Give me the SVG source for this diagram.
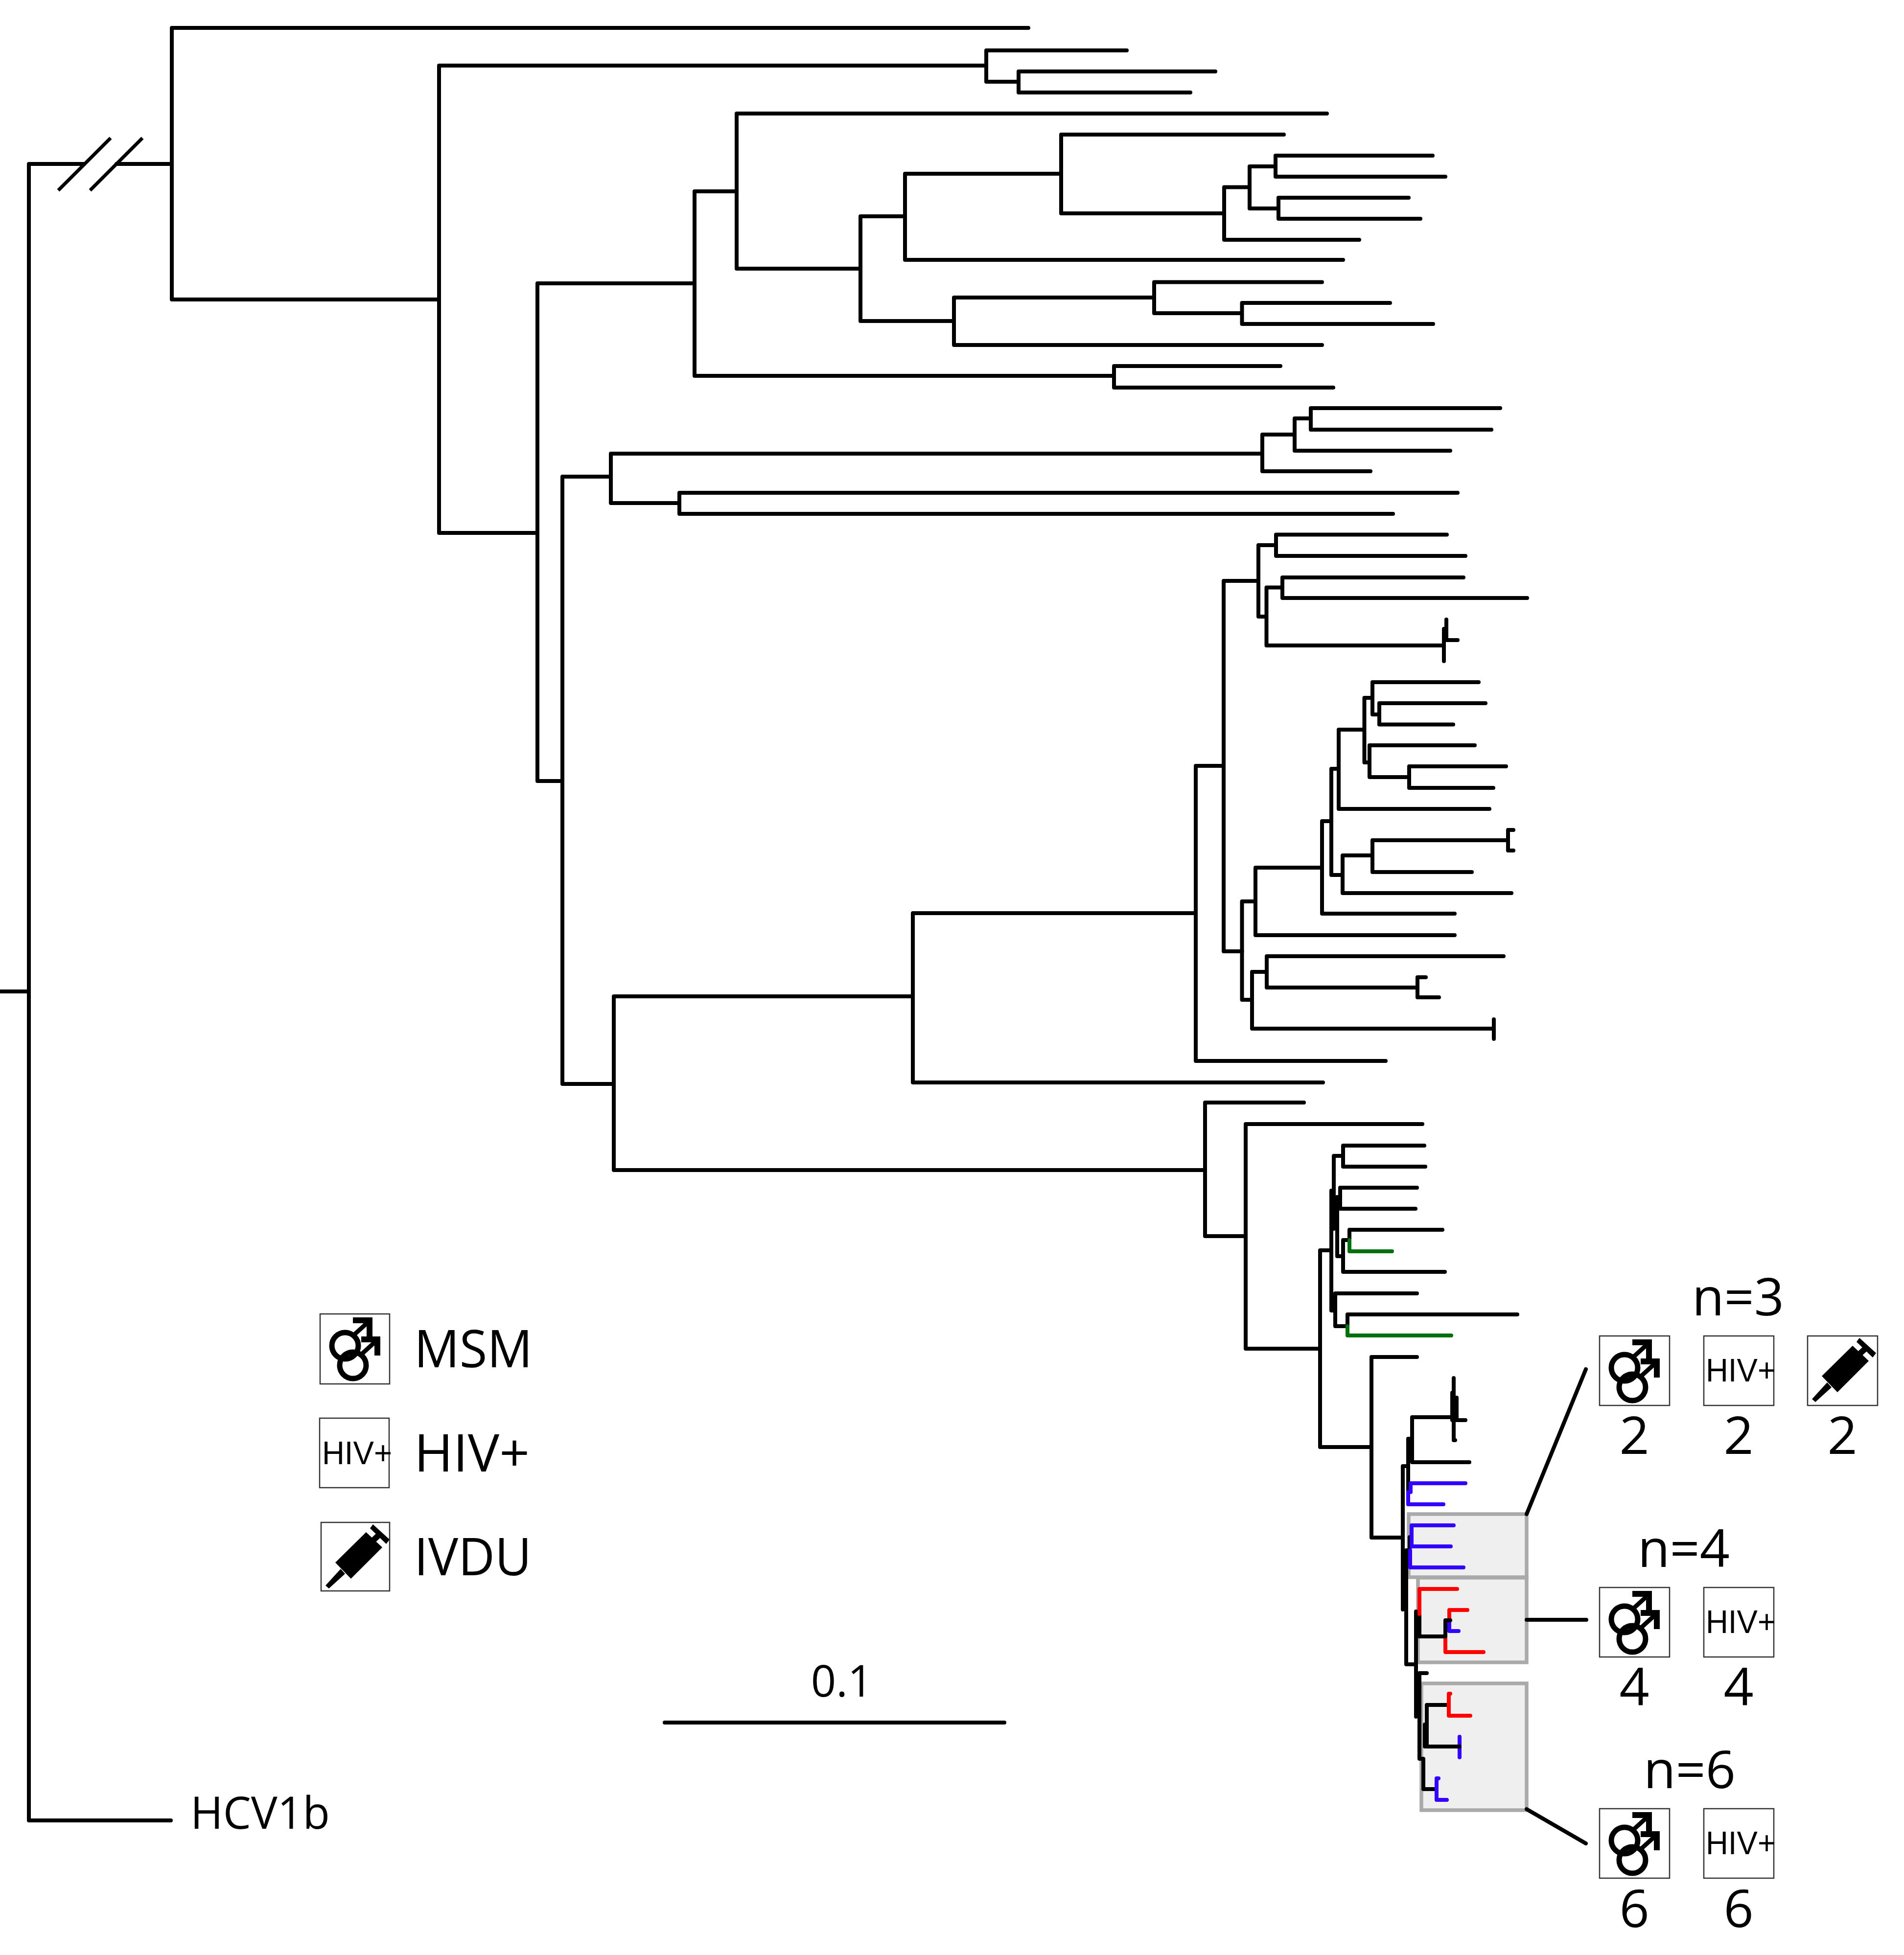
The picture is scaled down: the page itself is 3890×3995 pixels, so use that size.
<svg xmlns="http://www.w3.org/2000/svg" xmlns:xlink="http://www.w3.org/1999/xlink" width="3890" height="3995" viewBox="0 0 3890 3995">
<style>
.t{fill:none;stroke:#000;stroke-width:8;stroke-linecap:round;stroke-linejoin:round}
.b{fill:none;stroke:#3300ff;stroke-width:8;stroke-linecap:round;stroke-linejoin:round}
.r{fill:none;stroke:#ff0000;stroke-width:8;stroke-linecap:round;stroke-linejoin:round}
.g{fill:none;stroke:#00700f;stroke-width:8;stroke-linecap:round;stroke-linejoin:round}
.s{fill:none;stroke:#000;stroke-width:7}
.grey{fill:#efefef;stroke:#aaaaaa;stroke-width:7.5}
.ib{fill:#fff;stroke:#333;stroke-width:2.5}
.lab{font-family:"Open Sans","Noto Sans",sans-serif;font-size:107px;fill:#000}
.hiv{font-family:"Liberation Sans",Arial,sans-serif;font-size:67px;fill:#000}
</style>
<defs>
<g id="msm">
<circle cx="51" cy="65" r="27" fill="none" stroke="#000" stroke-width="11"/>
<line x1="69" y1="43" x2="102" y2="13" stroke="#000" stroke-width="9"/>
<polygon points="67,7 107,7 107,47 95,47 95,19 67,19" fill="#000"/>
<circle cx="67" cy="105" r="27" fill="none" stroke="#000" stroke-width="11"/>
<line x1="85" y1="82" x2="118" y2="52" stroke="#000" stroke-width="9"/>
<polygon points="84,46 123,46 123,85 111,85 111,58 84,58" fill="#000"/>
</g>
<g id="syr">
<polygon points="9,129 16,135 49,105 40,95" fill="#000"/>
<polygon points="29,82 92,20 125,51 61,115" fill="#000"/>
<polygon points="106,4 140,35 133,44 100,12" fill="#000"/>
<line x1="106" y1="37" x2="120" y2="24" stroke="#000" stroke-width="12"/>
</g>
</defs>
<rect width="3890" height="3995" fill="#fff"/>
<g id="highlight-boxes">
<rect id="box-n3" class="grey" x="2878" y="3094" width="241" height="129"/>
<rect id="box-n4" class="grey" x="2897" y="3224" width="222" height="173"/>
<rect id="box-n6" class="grey" x="2904" y="3440" width="215" height="259"/>
</g>
<g id="connectors">
<g transform="translate(0,1)">
<path class="t" d="M349,3719 H59 V334 H172 M238,334 H351 M0,2025 H59"/>
<path class="s" d="M119,388 L226,281 M184,388 L291,281"/>
<path class="t" d="M2101,56 H351 V611 H897 M2015,133 H897 V1088 H1098 M2302,102 H2015 V166 H2081 M2483,145 H2081 V188 H2432 M1419,578 H1098 V1595 H1149 M1505,390 H1419 V767 H2276 M2616,747 H2276 V791 H2724 M2711,231 H1505 V548 H1758 M1849,441 H1758 V655 H1949 M2168,354 H1849 V530 H2744 M2623,274 H2168 V435 H2501 M2553,381.5 H2501 V489 H2777 M2606,339 H2553 V425 H2612 M2927,317 H2606 V360 H2953 M2878,403 H2612 V446 H2902 M2358,607 H1949 V704 H2701 M2701,575.5 H2358 V639 H2537.5 M2840,618 H2537.5 V661 H2928"/>
<path class="t" d="M1248,973 H1149 V2214 H1254 M2579,926 H1248 V1027 H1388 M2645,887 H2579 V962 H2800 M2678,854 H2645 V920 H2963 M3065,833 H2678 V877 H3047 M2978,1006 H1388 V1049 H2846"/>
<path class="t" d="M1865,2035 H1254 V2390 H2462 M2443,1865 H1865 V2211 H2703 M2500,1564 H2443 V2167 H2831 M2571,1186 H2500 V1943 H2537.5 M2607,1113 H2571 V1259 H2587.5 M2956,1091.5 H2607 V1135 H2994 M2620,1199.5 H2587.5 V1318 H2950 M2990,1179 H2620 V1221 H3120 M2955,1284 H2950 V1350 M2955,1265 V1307 H2978"/>
<path class="t" d="M2565,1841 H2537.5 V2042 H2558 M2701,1772 H2565 V1910 H2972 M2720,1677 H2701 V1866 H2972 M2735,1570 H2720 V1787 H2743 M2787.5,1490 H2735 V1652 H3043 M2804,1425 H2787.5 V1557 H2798 M3021,1393 H2804 V1459 H2818 M3035,1436 H2818 V1479.5 H2969 M3013,1522 H2798 V1587 H2879 M3077,1565 H2879 V1609 H3051 M2804,1747 H2743 V1824 H3088 M3007,1781 H2804 V1716 H3081 M3092,1695 H3081 V1737 H3092 M2588,1985 H2558 V2101 H3052 M3052,2082 V2122 M3072,1953 H2588 V2017 H2896 M2913,1996 H2896 V2037 H2940"/>
<path class="t" d="M2664,2252 H2462 V2525 H2545 M2906,2296 H2545 V2755 H2697 M2720,2554 H2697 V2956 H2802 M2720,2432 V2677 H2728 M2744,2361 H2725 V2510 M2910,2340 H2744 V2383 H2912 M2732,2445 V2566 H2744 M2895,2426 H2738 V2469 H2892 M2732,2447 H2738 M2757,2533 H2744 V2598 H2952 M2947,2512 H2757 V2533 M2895,2642 H2728 V2709 H2753 V2685 H3100"/>
<path class="g" d="M2757,2533 V2556 H2844 M2753,2709 V2728 H2965"/>
<path class="t" d="M2895,2772 H2802 V3141 H2866 M2877,2995 H2866 V3288 M2885,2939 H2877 V3048 M2970,2895 H2885 V2987 H3002 M2970,2815 V2942 H2973 M2967,2845 V2901 M2976,2855 V2901 M2994,2901 H2970 M2880,3140 V3167 H2873 V3400 H2893 M2893,3292 V3507 M2900,3292 V3343 M2900,3418 V3593 H2908 V3655 H2935 M2915,3418 H2900 M2911,3523 V3568 M2915,3483 V3568 M2960,3483 H2915"/>
<path class="b" d="M2994,3030 H2882 V3048 M2949,3073 H2877 V3048 M2970,3116 H2884 V3159 H2964 M2990,3202 H2881 V3167 M2961,3310 V3332 H2980 M2982,3548 V3590 M2935,3655 V3633 H2939 M2935,3655 V3677 H2956"/>
<path class="r" d="M2977,3246 H2900 V3297 M2953,3343 V3375 H3031 M2961,3310 V3289 H2998 M2960,3483 V3460 H2963 M2960,3483 V3505 H3004"/>
<path class="t" d="M2900,3343 H2953 V3310 H2963 M2915,3568 H2982"/>
<path class="t" d="M3119,3093 L3240,2797 M3119,3309 H3241 M3119,3696 L3240,3766"/>
</g>
<path class="t" d="M1358,3520 H2052"/>
</g>
<g id="legend-msm">
<rect class="ib" x="654" y="2685" width="142" height="143"/>
<use xlink:href="#msm" href="#msm" x="654" y="2685"/>
<text class="lab" x="846" y="2794" textLength="242" lengthAdjust="spacingAndGlyphs">MSM</text>
</g>
<g id="legend-hiv">
<rect class="ib" x="653" y="2898" width="142" height="142"/>
<text class="hiv" x="658" y="2992" textLength="143" lengthAdjust="spacingAndGlyphs">HIV+</text>
<text class="lab" x="846" y="3007" textLength="236" lengthAdjust="spacingAndGlyphs">HIV+</text>
</g>
<g id="legend-ivdu">
<rect class="ib" x="656" y="3111" width="140" height="140"/>
<use xlink:href="#syr" href="#syr" x="656" y="3111"/>
<text class="lab" x="846" y="3219" textLength="240" lengthAdjust="spacingAndGlyphs">IVDU</text>
</g>
<g id="scale-label"><text class="lab" style="font-size:90px" x="1720" y="3467" text-anchor="middle">0.1</text></g>
<g id="hcv1b"><text class="lab" style="font-size:92px" x="389" y="3737" textLength="285" lengthAdjust="spacingAndGlyphs">HCV1b</text></g>
<g id="group-n3">
<text class="lab" x="3551" y="2688" text-anchor="middle">n=3</text>
<rect class="ib" x="3268" y="2730" width="143" height="142"/>
<use xlink:href="#msm" href="#msm" x="3268" y="2730"/>
<rect class="ib" x="3481" y="2730" width="143" height="142"/>
<text class="hiv" x="3485" y="2823" textLength="143" lengthAdjust="spacingAndGlyphs">HIV+</text>
<rect class="ib" x="3693" y="2730" width="143" height="142"/>
<use xlink:href="#syr" href="#syr" x="3693" y="2730"/>
<text class="lab" x="3339" y="2971" text-anchor="middle">2</text>
<text class="lab" x="3552" y="2971" text-anchor="middle">2</text>
<text class="lab" x="3764" y="2971" text-anchor="middle">2</text>
</g>
<g id="group-n4">
<text class="lab" x="3440" y="3202" text-anchor="middle">n=4</text>
<rect class="ib" x="3268" y="3244" width="143" height="142"/>
<use xlink:href="#msm" href="#msm" x="3268" y="3244"/>
<rect class="ib" x="3481" y="3244" width="143" height="142"/>
<text class="hiv" x="3485" y="3337" textLength="143" lengthAdjust="spacingAndGlyphs">HIV+</text>
<text class="lab" x="3339" y="3485" text-anchor="middle">4</text>
<text class="lab" x="3552" y="3485" text-anchor="middle">4</text>
</g>
<g id="group-n6">
<text class="lab" x="3452" y="3654" text-anchor="middle">n=6</text>
<rect class="ib" x="3268" y="3696" width="143" height="142"/>
<use xlink:href="#msm" href="#msm" x="3268" y="3696"/>
<rect class="ib" x="3481" y="3696" width="143" height="142"/>
<text class="hiv" x="3485" y="3789" textLength="143" lengthAdjust="spacingAndGlyphs">HIV+</text>
<text class="lab" x="3339" y="3938" text-anchor="middle">6</text>
<text class="lab" x="3552" y="3938" text-anchor="middle">6</text>
</g>
</svg>
